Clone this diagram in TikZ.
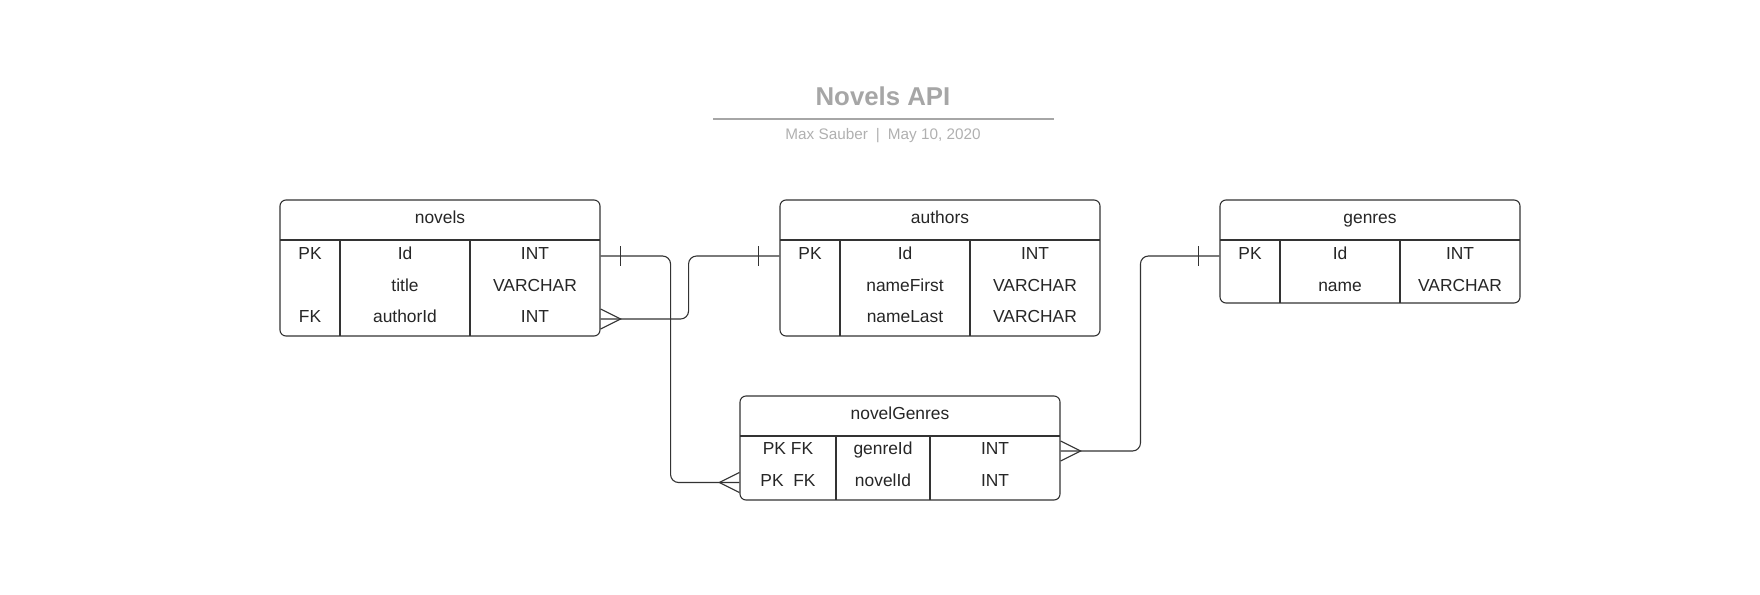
\documentclass[tikz,border=0pt]{standalone}
\usepackage{fontspec}
\setmainfont{Liberation Sans}
\usepackage{xcolor}
\usetikzlibrary{positioning}
\definecolor{linec}{HTML}{333333}
\definecolor{textc}{HTML}{262626}
\definecolor{titlec}{HTML}{A6A6A6}
\definecolor{subc}{HTML}{B0B0B0}
\tikzset{
  tbl/.style={draw=linec, line width=0.55pt, rounded corners=3pt, inner sep=0pt, fill=white},
  cell/.style={font=\fontsize{8.7pt}{10pt}\selectfont, text=textc, inner sep=0pt, text height=6.23pt, text depth=2.5pt},
  rel/.style={draw=linec, line width=0.55pt},
}
\begin{document}
\begin{tikzpicture}[x=0.5pt, y=-0.5pt]
\useasboundingbox (0,0) rectangle (1760,594);
% title block
\node[font=\bfseries\fontsize{12.9pt}{15pt}\selectfont, text=titlec] (title) at (883,96) {Novels API};
\draw [titlec, line width=0.75pt] (713,119) -- (1054,119);
\node[font=\fontsize{7.65pt}{9pt}\selectfont, text=subc] (byline) at (883,136) {Max Sauber\hspace{4pt}|\hspace{4pt}May 10, 2020};
% novels
\node[tbl, minimum width=160pt, minimum height=68pt] (novels) at (440,268) {};
\draw [rel] (280,240) -- (600,240) (340,240) -- (340,336) (470,240) -- (470,336);
\node[cell] (novelsH) at (440,220) {novels};
\foreach \k/\n/\t [count=\i] in {PK/Id/INT, /title/VARCHAR, FK/authorId/INT}
  \path (310,{256+31.5*(\i-1)}) node[cell] (novelsK\i) {\k}
        (405,{256+31.5*(\i-1)}) node[cell] (novelsN\i) {\n}
        (535,{256+31.5*(\i-1)}) node[cell] (novelsT\i) {\t};
% authors
\node[tbl, minimum width=160pt, minimum height=68pt] (authors) at (940,268) {};
\draw [rel] (780,240) -- (1100,240) (840,240) -- (840,336) (970,240) -- (970,336);
\node[cell] (authorsH) at (940,220) {authors};
\foreach \k/\n/\t [count=\i] in {PK/Id/INT, /nameFirst/VARCHAR, /nameLast/VARCHAR}
  \path (810,{256+31.5*(\i-1)}) node[cell] (authorsK\i) {\k}
        (905,{256+31.5*(\i-1)}) node[cell] (authorsN\i) {\n}
        (1035,{256+31.5*(\i-1)}) node[cell] (authorsT\i) {\t};
% genres
\node[tbl, minimum width=150pt, minimum height=51.5pt] (genres) at (1370,251.5) {};
\draw [rel] (1220,240) -- (1520,240) (1280,240) -- (1280,303) (1400,240) -- (1400,303);
\node[cell] (genresH) at (1370,220) {genres};
\foreach \k/\n/\t [count=\i] in {PK/Id/INT, /name/VARCHAR}
  \path (1250,{256+31.5*(\i-1)}) node[cell] (genresK\i) {\k}
        (1340,{256+31.5*(\i-1)}) node[cell] (genresN\i) {\n}
        (1460,{256+31.5*(\i-1)}) node[cell] (genresT\i) {\t};
% novelGenres
\node[tbl, minimum width=160pt, minimum height=52pt] (ng) at (900,448) {};
\draw [rel] (740,436) -- (1060,436) (836,436) -- (836,500) (930,436) -- (930,500);
\node[cell] (ngH) at (900,416) {novelGenres};
\foreach \k/\n/\t [count=\i] in {PK FK/genreId/INT, PK\ \ FK/novelId/INT}
  \path (788,{451+31.5*(\i-1)}) node[cell] (ngK\i) {\k}
        (883,{451+31.5*(\i-1)}) node[cell] (ngN\i) {\n}
        (995,{451+31.5*(\i-1)}) node[cell] (ngT\i) {\t};
% relations
\draw [rel, rounded corners=4pt] (novels.east |- novelsK1) -- ++(70,0) |- (ng.west |- ngK2);
\draw [rel] (novels.east |- novelsK1) ++(20,-10) -- ++(0,20);
\draw [rel] (ng.west |- ngK2) ++(0,-10) -- ++(-20,10) -- ++(20,10);
\draw [rel, rounded corners=4pt] (novels.east |- novelsK3) -- ++(88,0) |- (authors.west |- authorsK1);
\draw [rel] (novels.east |- novelsK3) ++(0,-10) -- ++(20,10) -- ++(-20,10);
\draw [rel] (authors.west |- authorsK1) ++(-21,-10) -- ++(0,20);
\draw [rel, rounded corners=4pt] (genres.west |- genresK1) -- ++(-79,0) |- (ng.east |- ngK1);
\draw [rel] (genres.west |- genresK1) ++(-21,-10) -- ++(0,20);
\draw [rel] (ng.east |- ngK1) ++(0,-10) -- ++(20,10) -- ++(-20,10);
\end{tikzpicture}
\end{document}
